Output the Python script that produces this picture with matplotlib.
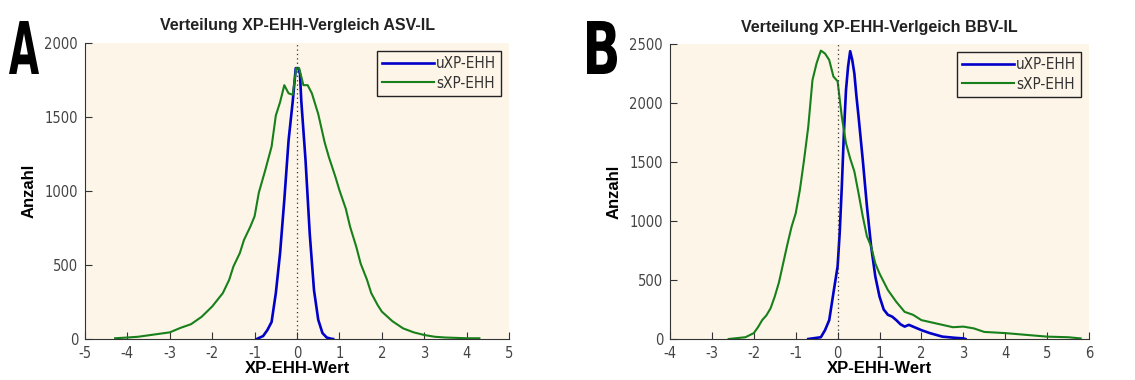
import matplotlib.pyplot as plt
from matplotlib.textpath import TextPath
from matplotlib.patches import PathPatch
from matplotlib.font_manager import FontProperties
from matplotlib.transforms import Affine2D

plt.rcParams['axes.unicode_minus'] = False

# --- Panel A: ASV-IL ---
a_u_x = [-0.95, -0.8, -0.7, -0.6, -0.5, -0.4, -0.3, -0.2, -0.1, -0.03, 0.03, 0.07,
         0.1, 0.2, 0.3, 0.4, 0.5, 0.6, 0.7, 0.8, 0.85]
a_u_y = [0, 20, 60, 115, 310, 580, 940, 1340, 1610, 1830, 1830, 1790,
         1610, 1210, 710, 330, 130, 40, 10, 2, 0]

a_s_x = [-4.29, -4.0, -3.75, -3.5, -3.25, -3.0, -2.75, -2.5, -2.25, -2.0, -1.75, -1.6,
         -1.5, -1.35, -1.25, -1.1, -1.0, -0.9, -0.75, -0.6, -0.5, -0.4, -0.3, -0.2,
         -0.1, -0.02, 0.05, 0.15, 0.25, 0.35, 0.5, 0.65, 0.75, 0.9, 1.0, 1.15, 1.25,
         1.4, 1.5, 1.65, 1.75, 1.9, 2.0, 2.25, 2.5, 2.75, 3.0, 3.25, 3.5, 4.0, 4.3]
a_s_y = [5, 10, 15, 25, 35, 45, 75, 100, 150, 220, 310, 400,
         490, 580, 670, 760, 830, 990, 1140, 1300, 1510, 1600, 1715, 1660,
         1650, 1830, 1830, 1715, 1715, 1660, 1520, 1330, 1230, 1100, 1005, 880, 760,
         620, 510, 400, 310, 230, 185, 120, 72, 45, 27, 15, 10, 5, 5]

# --- Panel B: BBV-IL ---
b_u_x = [-0.7, -0.4, -0.3, -0.2, -0.1, 0.0, 0.05, 0.1, 0.15, 0.2, 0.25, 0.3, 0.35,
         0.4, 0.45, 0.5, 0.6, 0.7, 0.8, 0.9, 1.0, 1.1, 1.2, 1.3, 1.4, 1.5, 1.6, 1.7,
         1.8, 2.0, 2.2, 2.5, 2.8, 3.0, 3.05]
b_u_y = [0, 15, 75, 160, 390, 615, 900, 1290, 1745, 2110, 2310, 2440, 2365,
         2250, 2055, 1885, 1520, 1125, 785, 530, 360, 250, 205, 190, 160, 125, 105, 120,
         105, 75, 50, 20, 10, 5, 0]

b_s_x = [-2.6, -2.2, -2.0, -1.9, -1.8, -1.7, -1.6, -1.5, -1.4, -1.3, -1.2, -1.1, -1.0,
         -0.9, -0.8, -0.7, -0.6, -0.5, -0.4, -0.3, -0.2, -0.1, 0.0, 0.1, 0.2, 0.3,
         0.4, 0.5, 0.6, 0.7, 0.8, 0.9, 1.0, 1.2, 1.4, 1.6, 1.8, 2.0, 2.25, 2.5, 2.75,
         3.0, 3.25, 3.5, 4.0, 4.5, 5.0, 5.5, 5.8]
b_s_y = [0, 15, 50, 100, 160, 200, 260, 360, 480, 640, 800, 950, 1065,
         1265, 1520, 1800, 2195, 2340, 2445, 2420, 2365, 2225, 2185, 1885, 1660, 1530,
         1420, 1235, 1040, 870, 785, 640, 555, 415, 315, 230, 205, 160, 140, 120, 100,
         105, 90, 60, 50, 35, 20, 15, 5]

panels = [
    dict(letter='A', title='Verteilung XP-EHH-Vergleich ASV-IL',
         ux=a_u_x, uy=a_u_y, sx=a_s_x, sy=a_s_y,
         xlim=(-5, 5), ylim=(0, 2000), xticks=range(-5, 6), yticks=range(0, 2001, 500),
         pos=[0.0749, 0.1079, 0.3736, 0.779], letter_px=9),
    dict(letter='B', title='Verteilung XP-EHH-Verlgeich BBV-IL',
         ux=b_u_x, uy=b_u_y, sx=b_s_x, sy=b_s_y,
         xlim=(-4, 6), ylim=(0, 2500), xticks=range(-4, 7), yticks=range(0, 2501, 500),
         pos=[0.5903, 0.1079, 0.3692, 0.776], letter_px=587),
]

bg = '#fdf5e8'
W, H = 1135, 380
fig = plt.figure(figsize=(W / 100, H / 100), dpi=100)

for p in panels:
    ax = fig.add_axes(p['pos'])
    ax.set_facecolor(bg)
    ax.plot(p['ux'], p['uy'], color='#0000c8', lw=1.9, label='uXP-EHH')
    ax.plot(p['sx'], p['sy'], color='#17801a', lw=1.5, label='sXP-EHH')
    ax.axvline(0, color='#333333', lw=0.9, ls=(0, (1, 2.5)))
    ax.set_xlim(p['xlim'])
    ax.set_ylim(p['ylim'])
    ax.set_xticks(list(p['xticks']))
    ax.set_yticks(list(p['yticks']))
    for s in ['top', 'right']:
        ax.spines[s].set_visible(False)
    for s in ['left', 'bottom']:
        ax.spines[s].set_color('#333333')
    ax.tick_params(direction='in', length=5, labelsize=10.5, labelcolor='#444444',
                   colors='#333333')
    ax.tick_params(axis='x', pad=5)
    ax.tick_params(axis='y', pad=5)
    for lab in ax.get_xticklabels() + ax.get_yticklabels():
        lab.set_family('DejaVu Sans')
        lab.set_stretch('condensed')
    ax.set_title(p['title'], fontsize=11.5, fontweight='bold', color='#222222',
                 family='Liberation Sans', pad=9)
    ax.set_xlabel('XP-EHH-Wert', fontsize=12, fontweight='bold',
                  family='Liberation Sans', labelpad=0)
    ax.set_ylabel('Anzahl', fontsize=12, fontweight='bold',
                  family='Liberation Sans', labelpad=6)
    leg = ax.legend(loc='upper right', fancybox=False, framealpha=1,
                    facecolor=bg, edgecolor='#222222', handlelength=3.4,
                    handletextpad=0.1, borderaxespad=0.5, borderpad=0.35,
                    labelspacing=0.3, prop={'family': 'DejaVu Sans',
                                            'stretch': 'condensed', 'size': 11})
    for t in leg.get_texts():
        t.set_color('#333333')

    # big panel letter, squeezed horizontally like the original
    tp = TextPath((0, 0), p['letter'], size=100,
                  prop=FontProperties(family='DejaVu Sans', weight='bold'))
    ext = tp.get_extents()
    sx = 30 / ext.width
    sy = 53 / ext.height
    tr = (Affine2D().translate(-ext.x0, -ext.y0).scale(sx, sy)
          .translate(p['letter_px'], H - 74))
    patch = PathPatch(tp, transform=tr, color='black', lw=0)
    fig.add_artist(patch)

fig.savefig('out.png', dpi=100, facecolor='white')
